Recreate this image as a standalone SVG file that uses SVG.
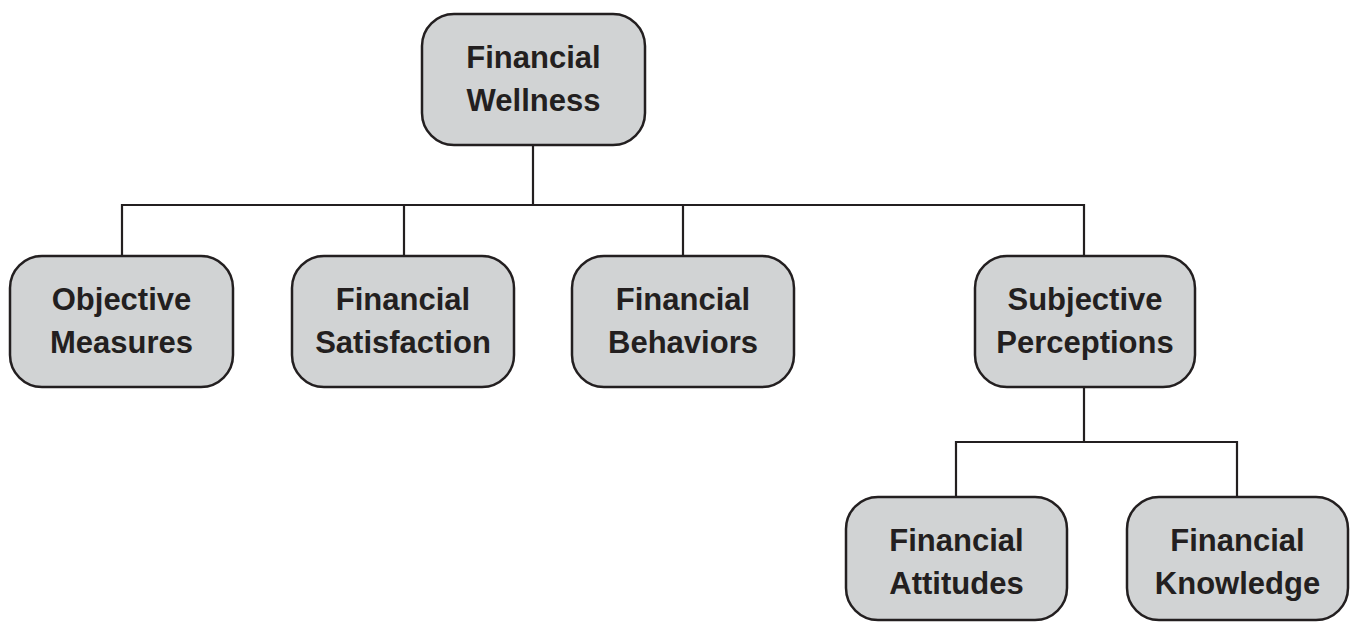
<svg xmlns="http://www.w3.org/2000/svg" width="1351" height="623" viewBox="0 0 1351 623">
<style>
.box{fill:#d1d3d4;stroke:#231f20;stroke-width:2.5}
.lbl{font-family:"Liberation Sans",Arial,sans-serif;font-weight:bold;font-size:31px;fill:#231f20;text-anchor:middle}
.conn{fill:none;stroke:#231f20;stroke-width:2.2}
</style>
<rect width="1351" height="623" fill="#ffffff"/>
<g id="connectors">
<path class="conn" d="M533 145V205M122 256V205H1084V256M404 205V256M683 205V256"/>
<path class="conn" d="M1084 387V442M956 497V442H1237V497"/>
</g>
<g id="n-wellness">
<rect class="box" x="422" y="14" width="223" height="131" rx="32"/>
<text class="lbl" x="533.5" y="68">Financial</text>
<text class="lbl" x="533.5" y="111">Wellness</text>
</g>
<g id="n-objective">
<rect class="box" x="10" y="256" width="223" height="131" rx="32"/>
<text class="lbl" x="121.5" y="310">Objective</text>
<text class="lbl" x="121.5" y="353">Measures</text>
</g>
<g id="n-satisfaction">
<rect class="box" x="292" y="256" width="222" height="131" rx="32"/>
<text class="lbl" x="403" y="310">Financial</text>
<text class="lbl" x="403" y="353">Satisfaction</text>
</g>
<g id="n-behaviors">
<rect class="box" x="572" y="256" width="222" height="131" rx="32"/>
<text class="lbl" x="683" y="310">Financial</text>
<text class="lbl" x="683" y="353">Behaviors</text>
</g>
<g id="n-subjective">
<rect class="box" x="975" y="256" width="220" height="131" rx="32"/>
<text class="lbl" x="1085" y="310">Subjective</text>
<text class="lbl" x="1085" y="353">Perceptions</text>
</g>
<g id="n-attitudes">
<rect class="box" x="846" y="497" width="221" height="123" rx="32"/>
<text class="lbl" x="956.5" y="551">Financial</text>
<text class="lbl" x="956.5" y="594">Attitudes</text>
</g>
<g id="n-knowledge">
<rect class="box" x="1127" y="497" width="221" height="123" rx="32"/>
<text class="lbl" x="1237.5" y="551">Financial</text>
<text class="lbl" x="1237.5" y="594">Knowledge</text>
</g>
</svg>
